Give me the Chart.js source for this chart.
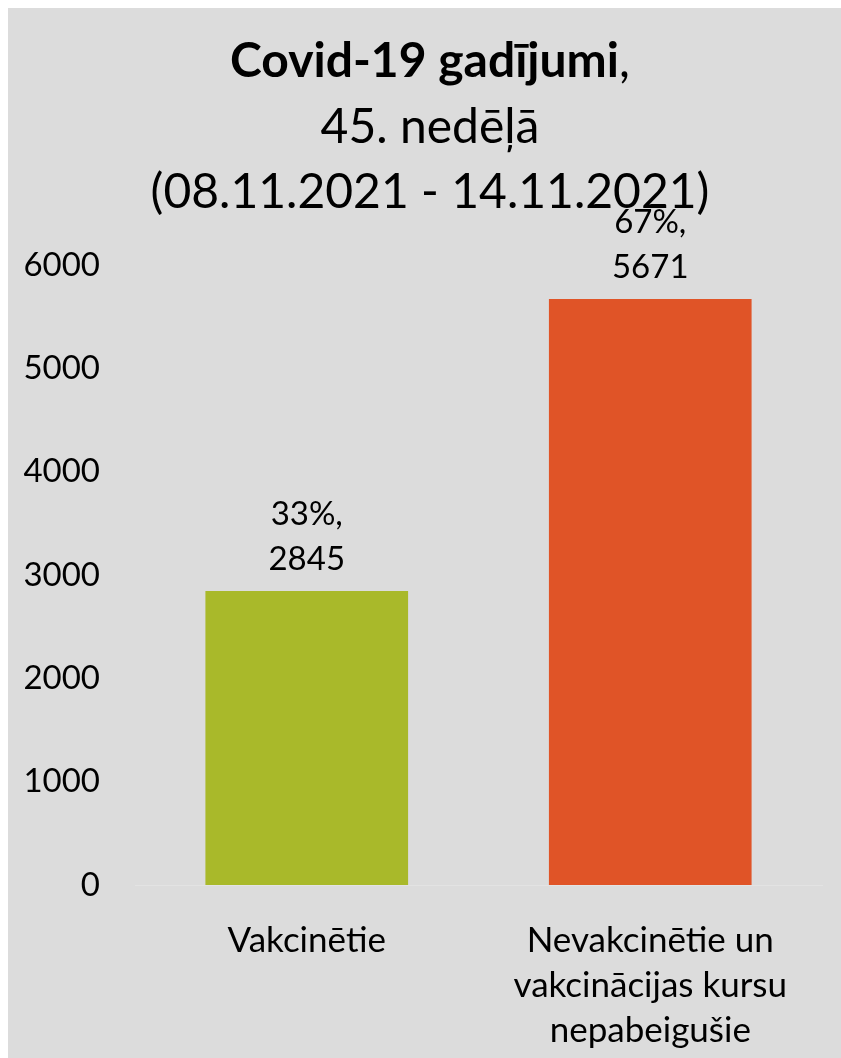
<!DOCTYPE html>
<html>
<head>
<meta charset="utf-8">
<script src="https://cdn.jsdelivr.net/npm/chart.js@4"></script>
<style>
    body { margin: 0; background: #ffffff; }
    #panel { position: absolute; left: 8px; top: 8px; width: 833px; height: 1050px; background: #dcdcdc; }
</style>
</head>
<body>
<div id="panel"><canvas id="covid-chart" width="833" height="1050"></canvas></div>
<script>
// datos
const categories = [['Vakcinētie'], ['Nevakcinētie un', 'vakcinācijas kursu', 'nepabeigušie']];
const cases = [2845, 5671];
const shares = ['33%', '67%'];
const barColors = ['#a9b92a', '#e05427'];
const yTicks = [0, 1000, 2000, 3000, 4000, 5000, 6000];

const fontName = 'Lato, "Open Sans", sans-serif';

// título con la primera línea en negrita
const titlePlugin = {
    id: 'titulo',
    afterDraw(chart) {
        const ctx = chart.ctx;
        const cx = 422;
        ctx.save();
        ctx.fillStyle = '#000';
        ctx.textBaseline = 'alphabetic';
        ctx.font = 'bold 48px ' + fontName;
        const boldPart = 'Covid-19 gadījumi';
        const wBold = ctx.measureText(boldPart).width;
        ctx.font = '48px ' + fontName;
        const wComma = ctx.measureText(',').width;
        let x = cx - (wBold + wComma) / 2;
        ctx.textAlign = 'left';
        ctx.font = 'bold 48px ' + fontName;
        ctx.fillText(boldPart, x, 69);
        ctx.font = '48px ' + fontName;
        ctx.fillText(',', x + wBold, 69);
        ctx.textAlign = 'center';
        ctx.fillText('45. nedēļā', cx, 135);
        ctx.fillText('(08.11.2021 - 14.11.2021)', cx, 200);
        ctx.restore();
    }
};

// etiquetas encima de las barras
const labelPlugin = {
    id: 'etiquetas',
    afterDraw(chart) {
        const ctx = chart.ctx;
        const meta = chart.getDatasetMeta(0);
        ctx.save();
        ctx.fillStyle = '#000';
        ctx.font = '33px ' + fontName;
        ctx.textAlign = 'center';
        ctx.textBaseline = 'alphabetic';
        meta.data.forEach((bar, i) => {
            ctx.fillText(shares[i] + ',', bar.x, bar.y - 66);
            ctx.fillText(String(cases[i]), bar.x, bar.y - 21);
        });
        ctx.restore();
    }
};

const ctx = document.getElementById('covid-chart').getContext('2d');
const chart = new Chart(ctx, {
    type: 'bar',
    data: {
        labels: categories,
        datasets: [{
            data: cases,
            backgroundColor: barColors,
            borderWidth: 0,
            barPercentage: 0.59,
            categoryPercentage: 1,
        }],
    },
    options: {
        responsive: false,
        animation: false,
        layout: { padding: { top: 257, right: 19, left: 0, bottom: 0 } },
        plugins: {
            legend: { display: false },
            title: { display: false },
            tooltip: { enabled: false },
        },
        scales: {
            x: {
                grid: { display: false, drawTicks: false },
                border: { display: true, color: '#e3e3e3', width: 1 },
                ticks: {
                    color: '#000',
                    font: { family: fontName, size: 35, lineHeight: 45 / 35 },
                    padding: 33,
                    maxRotation: 0,
                    autoSkip: false,
                },
                afterFit(scale) { scale.height = 173; },
            },
            y: {
                min: 0,
                max: 6000,
                grid: { display: false, drawTicks: false },
                border: { display: false },
                afterBuildTicks(scale) { scale.ticks = yTicks.map(v => ({ value: v })); },
                ticks: {
                    color: '#000',
                    font: { family: fontName, size: 33 },
                    padding: 35,
                    callback: (value) => String(value),
                },
                afterFit(scale) { scale.width = 127; },
            },
        },
    },
    plugins: [titlePlugin, labelPlugin],
});
</script>
</body>
</html>
